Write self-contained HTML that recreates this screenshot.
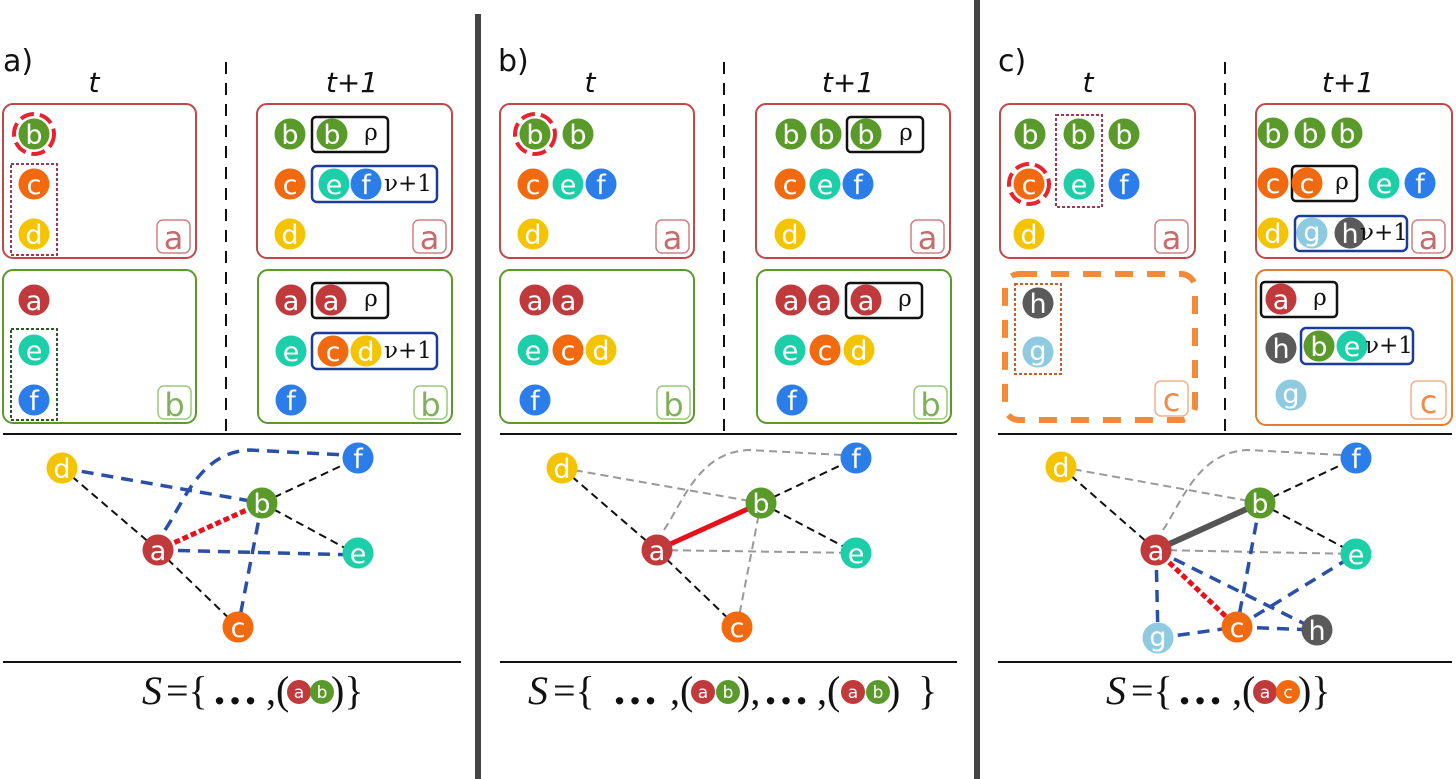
<!DOCTYPE html>
<html><head><meta charset="utf-8"><style>
html,body{margin:0;padding:0;background:#fff;}
svg{display:block;}
.n{font-family:"DejaVu Sans","Liberation Sans",sans-serif;font-size:27px;fill:#fff;text-anchor:middle;transform:translateY(1px);}
.s{font-size:17px;transform:none;}
.lb{font-family:"DejaVu Sans","Liberation Sans",sans-serif;font-size:32px;text-anchor:middle;}
.hd{font-family:"DejaVu Sans","Liberation Sans",sans-serif;font-size:28px;font-style:italic;text-anchor:middle;fill:#111;}
.pl{font-family:"DejaVu Sans","Liberation Sans",sans-serif;font-size:30px;fill:#111;}
.rho{font-family:"DejaVu Serif","Liberation Serif",serif;font-size:23px;fill:#111;text-anchor:middle;}
.f{font-family:"Liberation Serif","DejaVu Serif",serif;font-size:40px;fill:#111;}
.d{font-family:"Liberation Serif","DejaVu Serif",serif;font-size:46px;font-weight:bold;fill:#111;}
</style></head><body>
<svg width="1456" height="779" viewBox="0 0 1456 779" xmlns="http://www.w3.org/2000/svg">
<rect width="1456" height="779" fill="#fff"/>
<rect x="475" y="14" width="6" height="765" fill="#444"/>
<rect x="974" y="0" width="6" height="779" fill="#444"/>

<!-- ============ PANEL A ============ -->
<text class="pl" x="3" y="71">a)</text>
<text class="hd" x="94" y="92">t</text>
<text class="hd" x="352" y="92">t+1</text>
<line x1="226" y1="62" x2="226" y2="432" stroke="#111" stroke-width="2" stroke-dasharray="12 9"/>
<line x1="3" y1="434" x2="461" y2="434" stroke="#111" stroke-width="2"/>
<line x1="3" y1="662" x2="461" y2="662" stroke="#111" stroke-width="2"/>
<rect x="3" y="104" width="193" height="154" rx="10" fill="none" stroke="#c04848" stroke-width="2"/>
<rect x="3" y="270" width="193" height="153" rx="10" fill="none" stroke="#5a9a2a" stroke-width="2"/>
<rect x="257" y="104" width="195" height="154" rx="10" fill="none" stroke="#c04848" stroke-width="2"/>
<rect x="258" y="270" width="194" height="153" rx="10" fill="none" stroke="#5a9a2a" stroke-width="2"/>
<rect x="157" y="220" width="33" height="33" rx="6" fill="none" stroke="#d08080" stroke-width="1.5"/><text class="lb" x="173.5" y="249" fill="#c56b6b">a</text>
<rect x="413" y="220" width="33" height="33" rx="6" fill="none" stroke="#d08080" stroke-width="1.5"/><text class="lb" x="429.5" y="249" fill="#c56b6b">a</text>
<rect x="158" y="386" width="33" height="33" rx="6" fill="none" stroke="#9cc87a" stroke-width="1.5"/><text class="lb" x="174.5" y="416" fill="#7fb05a">b</text>
<rect x="414" y="386" width="33" height="33" rx="6" fill="none" stroke="#9cc87a" stroke-width="1.5"/><text class="lb" x="430.5" y="416" fill="#7fb05a">b</text>
<rect x="11" y="164" width="46" height="91" fill="none" stroke="#a03a50" stroke-width="2" stroke-dasharray="3 2"/>
<rect x="11" y="329" width="46" height="91" fill="none" stroke="#2a5a2a" stroke-width="2" stroke-dasharray="3 2"/>
<circle cx="34" cy="134" r="20" fill="none" stroke="#e8232f" stroke-width="4" stroke-dasharray="14 6"/>
<circle cx="34" cy="134" r="15.5" fill="#5a9a2a"/><text class="n" x="34" y="143">b</text>
<circle cx="34" cy="184" r="15.5" fill="#f26a0f"/><text class="n" x="34" y="193">c</text>
<circle cx="34" cy="234" r="15.5" fill="#f5c400"/><text class="n" x="34" y="243">d</text>
<circle cx="34" cy="300" r="15.5" fill="#c0393b"/><text class="n" x="34" y="309">a</text>
<circle cx="34" cy="350" r="15.5" fill="#1ccfa8"/><text class="n" x="34" y="359">e</text>
<circle cx="34" cy="400" r="15.5" fill="#2b7de9"/><text class="n" x="34" y="409">f</text>
<circle cx="290" cy="134" r="15.5" fill="#5a9a2a"/><text class="n" x="290" y="143">b</text>
<rect x="312" y="117" width="76" height="35" rx="4" fill="none" stroke="#111" stroke-width="2.5"/>
<circle cx="332" cy="134" r="15.5" fill="#5a9a2a"/><text class="n" x="332" y="143">b</text><text class="rho" x="371" y="140">ρ</text>
<circle cx="290" cy="184" r="15.5" fill="#f26a0f"/><text class="n" x="290" y="193">c</text>
<rect x="312" y="166" width="125" height="36" rx="5" fill="none" stroke="#1c3c9a" stroke-width="2.5"/>
<circle cx="334" cy="184" r="15.5" fill="#1ccfa8"/><text class="n" x="334" y="193">e</text>
<circle cx="366" cy="184" r="15.5" fill="#2b7de9"/><text class="n" x="366" y="193">f</text>
<text class="rho" x="408" y="191">ν+1</text>
<circle cx="290" cy="234" r="15.5" fill="#f5c400"/><text class="n" x="290" y="243">d</text>
<circle cx="291" cy="300" r="15.5" fill="#c0393b"/><text class="n" x="291" y="309">a</text>
<rect x="312" y="283" width="76" height="35" rx="4" fill="none" stroke="#111" stroke-width="2.5"/>
<circle cx="331" cy="300" r="15.5" fill="#c0393b"/><text class="n" x="331" y="309">a</text><text class="rho" x="371" y="306">ρ</text>
<circle cx="291" cy="351" r="15.5" fill="#1ccfa8"/><text class="n" x="291" y="360">e</text>
<rect x="312" y="333" width="125" height="36" rx="5" fill="none" stroke="#1c3c9a" stroke-width="2.5"/>
<circle cx="333" cy="351" r="15.5" fill="#f26a0f"/><text class="n" x="333" y="360">c</text>
<circle cx="366" cy="351" r="15.5" fill="#f5c400"/><text class="n" x="366" y="360">d</text>
<text class="rho" x="408" y="358">ν+1</text>
<circle cx="291" cy="400" r="15.5" fill="#2b7de9"/><text class="n" x="291" y="409">f</text>
<g fill="none">
<line x1="62" y1="468" x2="158" y2="550" stroke="#111" stroke-width="2" stroke-dasharray="8 5"/>
<line x1="158" y1="550" x2="238" y2="627" stroke="#111" stroke-width="2" stroke-dasharray="8 5"/>
<line x1="262" y1="503" x2="358" y2="458" stroke="#111" stroke-width="2" stroke-dasharray="8 5"/>
<line x1="262" y1="503" x2="358" y2="555" stroke="#111" stroke-width="2" stroke-dasharray="8 5"/>
<line x1="62" y1="468" x2="262" y2="503" stroke="#2a4fa8" stroke-width="3.5" stroke-dasharray="12 8"/>
<path d="M165,530 C185,500 200,452 250,450 L345,455" stroke="#2a4fa8" stroke-width="3.5" stroke-dasharray="12 8"/>
<line x1="158" y1="550" x2="358" y2="555" stroke="#2a4fa8" stroke-width="3.5" stroke-dasharray="12 8"/>
<line x1="262" y1="503" x2="238" y2="627" stroke="#2a4fa8" stroke-width="3.5" stroke-dasharray="12 8"/>
<line x1="158" y1="550" x2="262" y2="503" stroke="#e8101a" stroke-width="5" stroke-dasharray="6 3"/>
</g>
<circle cx="62" cy="468" r="15.5" fill="#f5c400"/><text class="n" x="62" y="477">d</text>
<circle cx="358" cy="458" r="15.5" fill="#2b7de9"/><text class="n" x="358" y="467">f</text>
<circle cx="262" cy="503" r="15.5" fill="#5a9a2a"/><text class="n" x="262" y="512">b</text>
<circle cx="158" cy="550" r="15.5" fill="#c0393b"/><text class="n" x="158" y="559">a</text>
<circle cx="358" cy="553" r="15.5" fill="#1ccfa8"/><text class="n" x="358" y="562">e</text>
<circle cx="238" cy="627" r="15.5" fill="#f26a0f"/><text class="n" x="238" y="636">c</text>
<text class="f" x="142" y="704" font-style="italic">S</text>
<text class="f" x="166" y="704">={</text>
<text class="d" x="212" y="704">…</text>
<text class="f" x="266" y="704">,(</text>
<circle cx="299" cy="692" r="12" fill="#c0393b"/><text class="n s" x="299" y="698">a</text>
<circle cx="322" cy="692" r="12" fill="#5a9a2a"/><text class="n s" x="322" y="698">b</text>
<text class="f" x="331" y="704">)}</text>

<!-- ============ PANEL B ============ -->
<text class="pl" x="498" y="71">b)</text>
<text class="hd" x="590" y="92">t</text>
<text class="hd" x="848" y="92">t+1</text>
<line x1="724" y1="62" x2="724" y2="432" stroke="#111" stroke-width="2" stroke-dasharray="12 9"/>
<line x1="500" y1="434" x2="957" y2="434" stroke="#111" stroke-width="2"/>
<line x1="500" y1="662" x2="957" y2="662" stroke="#111" stroke-width="2"/>
<rect x="500" y="104" width="194" height="154" rx="10" fill="none" stroke="#c04848" stroke-width="2"/>
<rect x="500" y="270" width="194" height="153" rx="10" fill="none" stroke="#5a9a2a" stroke-width="2"/>
<rect x="756" y="104" width="194" height="154" rx="10" fill="none" stroke="#c04848" stroke-width="2"/>
<rect x="757" y="270" width="194" height="153" rx="10" fill="none" stroke="#5a9a2a" stroke-width="2"/>
<rect x="656" y="220" width="33" height="33" rx="6" fill="none" stroke="#d08080" stroke-width="1.5"/><text class="lb" x="672.5" y="249" fill="#c56b6b">a</text>
<rect x="911" y="220" width="33" height="33" rx="6" fill="none" stroke="#d08080" stroke-width="1.5"/><text class="lb" x="927.5" y="249" fill="#c56b6b">a</text>
<rect x="657" y="386" width="33" height="33" rx="6" fill="none" stroke="#9cc87a" stroke-width="1.5"/><text class="lb" x="673.5" y="416" fill="#7fb05a">b</text>
<rect x="914" y="386" width="33" height="33" rx="6" fill="none" stroke="#9cc87a" stroke-width="1.5"/><text class="lb" x="930.5" y="416" fill="#7fb05a">b</text>
<circle cx="535" cy="134" r="20" fill="none" stroke="#e8232f" stroke-width="4" stroke-dasharray="14 6"/>
<circle cx="535" cy="134" r="15.5" fill="#5a9a2a"/><text class="n" x="535" y="143">b</text>
<circle cx="578" cy="134" r="15.5" fill="#5a9a2a"/><text class="n" x="578" y="143">b</text>
<circle cx="533" cy="184" r="15.5" fill="#f26a0f"/><text class="n" x="533" y="193">c</text>
<circle cx="568" cy="184" r="15.5" fill="#1ccfa8"/><text class="n" x="568" y="193">e</text>
<circle cx="601" cy="184" r="15.5" fill="#2b7de9"/><text class="n" x="601" y="193">f</text>
<circle cx="533" cy="234" r="15.5" fill="#f5c400"/><text class="n" x="533" y="243">d</text>
<circle cx="535" cy="300" r="15.5" fill="#c0393b"/><text class="n" x="535" y="309">a</text>
<circle cx="568" cy="300" r="15.5" fill="#c0393b"/><text class="n" x="568" y="309">a</text>
<circle cx="533" cy="350" r="15.5" fill="#1ccfa8"/><text class="n" x="533" y="359">e</text>
<circle cx="568" cy="350" r="15.5" fill="#f26a0f"/><text class="n" x="568" y="359">c</text>
<circle cx="601" cy="350" r="15.5" fill="#f5c400"/><text class="n" x="601" y="359">d</text>
<circle cx="535" cy="400" r="15.5" fill="#2b7de9"/><text class="n" x="535" y="409">f</text>
<circle cx="791" cy="134" r="15.5" fill="#5a9a2a"/><text class="n" x="791" y="143">b</text>
<circle cx="826" cy="134" r="15.5" fill="#5a9a2a"/><text class="n" x="826" y="143">b</text>
<rect x="847" y="117" width="76" height="35" rx="4" fill="none" stroke="#111" stroke-width="2.5"/>
<circle cx="866" cy="134" r="15.5" fill="#5a9a2a"/><text class="n" x="866" y="143">b</text><text class="rho" x="906" y="140">ρ</text>
<circle cx="790" cy="184" r="15.5" fill="#f26a0f"/><text class="n" x="790" y="193">c</text>
<circle cx="825" cy="184" r="15.5" fill="#1ccfa8"/><text class="n" x="825" y="193">e</text>
<circle cx="858" cy="184" r="15.5" fill="#2b7de9"/><text class="n" x="858" y="193">f</text>
<circle cx="790" cy="234" r="15.5" fill="#f5c400"/><text class="n" x="790" y="243">d</text>
<circle cx="791" cy="300" r="15.5" fill="#c0393b"/><text class="n" x="791" y="309">a</text>
<circle cx="824" cy="300" r="15.5" fill="#c0393b"/><text class="n" x="824" y="309">a</text>
<rect x="846" y="283" width="76" height="35" rx="4" fill="none" stroke="#111" stroke-width="2.5"/>
<circle cx="866" cy="300" r="15.5" fill="#c0393b"/><text class="n" x="866" y="309">a</text><text class="rho" x="905" y="306">ρ</text>
<circle cx="790" cy="350" r="15.5" fill="#1ccfa8"/><text class="n" x="790" y="359">e</text>
<circle cx="825" cy="350" r="15.5" fill="#f26a0f"/><text class="n" x="825" y="359">c</text>
<circle cx="859" cy="350" r="15.5" fill="#f5c400"/><text class="n" x="859" y="359">d</text>
<circle cx="792" cy="400" r="15.5" fill="#2b7de9"/><text class="n" x="792" y="409">f</text>
<g fill="none">
<line x1="562" y1="468" x2="657" y2="550" stroke="#111" stroke-width="2" stroke-dasharray="8 5"/>
<line x1="657" y1="550" x2="737" y2="627" stroke="#111" stroke-width="2" stroke-dasharray="8 5"/>
<line x1="761" y1="503" x2="856" y2="458" stroke="#111" stroke-width="2" stroke-dasharray="8 5"/>
<line x1="761" y1="503" x2="856" y2="553" stroke="#111" stroke-width="2" stroke-dasharray="8 5"/>
<line x1="562" y1="468" x2="761" y2="503" stroke="#999" stroke-width="2" stroke-dasharray="8 5"/>
<path d="M664,530 C684,500 699,452 749,450 L843,455" stroke="#999" stroke-width="2" stroke-dasharray="8 5"/>
<line x1="657" y1="550" x2="856" y2="553" stroke="#999" stroke-width="2" stroke-dasharray="8 5"/>
<line x1="761" y1="503" x2="737" y2="627" stroke="#999" stroke-width="2" stroke-dasharray="8 5"/>
<line x1="657" y1="550" x2="761" y2="503" stroke="#e8101a" stroke-width="5"/>
</g>
<circle cx="562" cy="468" r="15.5" fill="#f5c400"/><text class="n" x="562" y="477">d</text>
<circle cx="856" cy="458" r="15.5" fill="#2b7de9"/><text class="n" x="856" y="467">f</text>
<circle cx="761" cy="503" r="15.5" fill="#5a9a2a"/><text class="n" x="761" y="512">b</text>
<circle cx="657" cy="550" r="15.5" fill="#c0393b"/><text class="n" x="657" y="559">a</text>
<circle cx="856" cy="553" r="15.5" fill="#1ccfa8"/><text class="n" x="856" y="562">e</text>
<circle cx="737" cy="627" r="15.5" fill="#f26a0f"/><text class="n" x="737" y="636">c</text>
<text class="f" x="528" y="704" font-style="italic">S</text>
<text class="f" x="553" y="704">={</text>
<text class="d" x="612" y="704">…</text>
<text class="f" x="670" y="704">,(</text>
<circle cx="703" cy="692" r="12" fill="#c0393b"/><text class="n s" x="703" y="698">a</text>
<circle cx="728" cy="692" r="12" fill="#5a9a2a"/><text class="n s" x="728" y="698">b</text>
<text class="f" x="737" y="704">),</text>
<text class="d" x="763" y="704">…</text>
<text class="f" x="817" y="704">,(</text>
<circle cx="853" cy="692" r="12" fill="#c0393b"/><text class="n s" x="853" y="698">a</text>
<circle cx="878" cy="692" r="12" fill="#5a9a2a"/><text class="n s" x="878" y="698">b</text>
<text class="f" x="887" y="704">)</text>
<text class="f" x="918" y="704">}</text>

<!-- ============ PANEL C ============ -->
<text class="pl" x="998" y="71">c)</text>
<text class="hd" x="1088" y="92">t</text>
<text class="hd" x="1348" y="92">t+1</text>
<line x1="1225" y1="62" x2="1225" y2="432" stroke="#111" stroke-width="2" stroke-dasharray="12 9"/>
<line x1="998" y1="434" x2="1452" y2="434" stroke="#111" stroke-width="2"/>
<line x1="998" y1="662" x2="1452" y2="662" stroke="#111" stroke-width="2"/>
<rect x="1000" y="104" width="195" height="154" rx="10" fill="none" stroke="#c04848" stroke-width="2"/>
<rect x="1005" y="274" width="190" height="146" rx="14" fill="none" stroke="#f28a3a" stroke-width="6" stroke-dasharray="18 14"/>
<rect x="1256" y="104" width="196" height="154" rx="10" fill="none" stroke="#c04848" stroke-width="2"/>
<rect x="1256" y="270" width="196" height="155" rx="10" fill="none" stroke="#e87a2a" stroke-width="2"/>
<rect x="1155" y="220" width="33" height="33" rx="6" fill="none" stroke="#d08080" stroke-width="1.5"/><text class="lb" x="1171.5" y="249" fill="#c56b6b">a</text>
<rect x="1412" y="220" width="33" height="33" rx="6" fill="none" stroke="#d08080" stroke-width="1.5"/><text class="lb" x="1428.5" y="249" fill="#c56b6b">a</text>
<rect x="1155" y="381" width="33" height="35" rx="6" fill="none" stroke="#f5b08a" stroke-width="1.5"/><text class="lb" x="1171.5" y="411" fill="#f28a4a">c</text>
<rect x="1411" y="381" width="35" height="38" rx="6" fill="none" stroke="#f5b08a" stroke-width="1.5"/><text class="lb" x="1428.5" y="413" fill="#f28a4a">c</text>
<rect x="1056" y="115" width="46" height="92" fill="none" stroke="#a03a50" stroke-width="2" stroke-dasharray="3 2"/>
<rect x="1015" y="284" width="46" height="90" fill="none" stroke="#c0602a" stroke-width="2" stroke-dasharray="3 2"/>
<circle cx="1030" cy="134" r="15.5" fill="#5a9a2a"/><text class="n" x="1030" y="143">b</text>
<circle cx="1079" cy="134" r="15.5" fill="#5a9a2a"/><text class="n" x="1079" y="143">b</text>
<circle cx="1124" cy="134" r="15.5" fill="#5a9a2a"/><text class="n" x="1124" y="143">b</text>
<circle cx="1029" cy="184" r="20" fill="none" stroke="#e8232f" stroke-width="4" stroke-dasharray="14 6"/>
<circle cx="1029" cy="184" r="15.5" fill="#f26a0f"/><text class="n" x="1029" y="193">c</text>
<circle cx="1079" cy="184" r="15.5" fill="#1ccfa8"/><text class="n" x="1079" y="193">e</text>
<circle cx="1124" cy="184" r="15.5" fill="#2b7de9"/><text class="n" x="1124" y="193">f</text>
<circle cx="1029" cy="234" r="15.5" fill="#f5c400"/><text class="n" x="1029" y="243">d</text>
<circle cx="1038" cy="303" r="15.5" fill="#5a5a5a"/><text class="n" x="1038" y="312">h</text>
<circle cx="1038" cy="352" r="15.5" fill="#8ecae0"/><text class="n" x="1038" y="359">g</text>
<circle cx="1273" cy="133" r="15.5" fill="#5a9a2a"/><text class="n" x="1273" y="142">b</text>
<circle cx="1310" cy="133" r="15.5" fill="#5a9a2a"/><text class="n" x="1310" y="142">b</text>
<circle cx="1347" cy="133" r="15.5" fill="#5a9a2a"/><text class="n" x="1347" y="142">b</text>
<circle cx="1273" cy="183" r="15.5" fill="#f26a0f"/><text class="n" x="1273" y="192">c</text>
<rect x="1292" y="166" width="65" height="35" rx="4" fill="none" stroke="#111" stroke-width="2.5"/>
<circle cx="1307" cy="183" r="15.5" fill="#f26a0f"/><text class="n" x="1307" y="192">c</text><text class="rho" x="1342" y="189">ρ</text>
<circle cx="1384" cy="183" r="15.5" fill="#1ccfa8"/><text class="n" x="1384" y="192">e</text>
<circle cx="1420" cy="183" r="15.5" fill="#2b7de9"/><text class="n" x="1420" y="192">f</text>
<circle cx="1273" cy="233" r="15.5" fill="#f5c400"/><text class="n" x="1273" y="242">d</text>
<rect x="1295" y="216" width="112" height="35" rx="5" fill="none" stroke="#1c3c9a" stroke-width="2.5"/>
<circle cx="1312" cy="233" r="15.5" fill="#8ecae0"/><text class="n" x="1312" y="240">g</text>
<circle cx="1350" cy="233" r="15.5" fill="#5a5a5a"/><text class="n" x="1350" y="242">h</text>
<text class="rho" x="1384" y="240">ν+1</text>
<rect x="1261" y="282" width="76" height="35" rx="4" fill="none" stroke="#111" stroke-width="2.5"/>
<circle cx="1281" cy="299" r="15.5" fill="#c0393b"/><text class="n" x="1281" y="308">a</text><text class="rho" x="1320" y="305">ρ</text>
<circle cx="1281" cy="348" r="15.5" fill="#5a5a5a"/><text class="n" x="1281" y="357">h</text>
<rect x="1301" y="328" width="112" height="36" rx="5" fill="none" stroke="#1c3c9a" stroke-width="2.5"/>
<circle cx="1319" cy="346" r="15.5" fill="#5a9a2a"/><text class="n" x="1319" y="355">b</text>
<circle cx="1352" cy="346" r="15.5" fill="#1ccfa8"/><text class="n" x="1352" y="355">e</text>
<text class="rho" x="1389" y="353">ν+1</text>
<circle cx="1291" cy="395" r="15.5" fill="#8ecae0"/><text class="n" x="1291" y="402">g</text>
<g fill="none">
<line x1="1061" y1="467" x2="1156" y2="550" stroke="#111" stroke-width="2" stroke-dasharray="8 5"/>
<line x1="1260" y1="503" x2="1356" y2="458" stroke="#111" stroke-width="2" stroke-dasharray="8 5"/>
<line x1="1260" y1="503" x2="1356" y2="554" stroke="#111" stroke-width="2" stroke-dasharray="8 5"/>
<line x1="1061" y1="467" x2="1260" y2="503" stroke="#999" stroke-width="2" stroke-dasharray="8 5"/>
<path d="M1163,530 C1183,500 1198,452 1248,450 L1342,455" stroke="#999" stroke-width="2" stroke-dasharray="8 5"/>
<line x1="1156" y1="550" x2="1356" y2="554" stroke="#999" stroke-width="2" stroke-dasharray="8 5"/>
<line x1="1260" y1="503" x2="1237" y2="627" stroke="#2a4fa8" stroke-width="3.5" stroke-dasharray="12 8"/>
<line x1="1156" y1="550" x2="1317" y2="630" stroke="#2a4fa8" stroke-width="3.5" stroke-dasharray="12 8"/>
<line x1="1156" y1="550" x2="1158" y2="638" stroke="#2a4fa8" stroke-width="3.5" stroke-dasharray="12 8"/>
<line x1="1158" y1="638" x2="1237" y2="627" stroke="#2a4fa8" stroke-width="3.5" stroke-dasharray="12 8"/>
<line x1="1237" y1="627" x2="1317" y2="630" stroke="#2a4fa8" stroke-width="3.5" stroke-dasharray="12 8"/>
<line x1="1237" y1="627" x2="1356" y2="554" stroke="#2a4fa8" stroke-width="3.5" stroke-dasharray="12 8"/>
<line x1="1156" y1="550" x2="1260" y2="503" stroke="#555" stroke-width="6"/>
<line x1="1156" y1="550" x2="1237" y2="627" stroke="#e8101a" stroke-width="5" stroke-dasharray="6 3"/>
</g>
<circle cx="1061" cy="467" r="15.5" fill="#f5c400"/><text class="n" x="1061" y="476">d</text>
<circle cx="1356" cy="458" r="15.5" fill="#2b7de9"/><text class="n" x="1356" y="467">f</text>
<circle cx="1260" cy="503" r="15.5" fill="#5a9a2a"/><text class="n" x="1260" y="512">b</text>
<circle cx="1156" cy="550" r="15.5" fill="#c0393b"/><text class="n" x="1156" y="559">a</text>
<circle cx="1356" cy="554" r="15.5" fill="#1ccfa8"/><text class="n" x="1356" y="563">e</text>
<circle cx="1237" cy="627" r="15.5" fill="#f26a0f"/><text class="n" x="1237" y="636">c</text>
<circle cx="1158" cy="638" r="15.5" fill="#8ecae0"/><text class="n" x="1158" y="645">g</text>
<circle cx="1317" cy="630" r="15.5" fill="#5a5a5a"/><text class="n" x="1317" y="639">h</text>
<text class="f" x="1106" y="704" font-style="italic">S</text>
<text class="f" x="1131" y="704">={</text>
<text class="d" x="1177" y="704">…</text>
<text class="f" x="1232" y="704">,(</text>
<circle cx="1265" cy="692" r="12" fill="#c0393b"/><text class="n s" x="1265" y="698">a</text>
<circle cx="1288" cy="692" r="12" fill="#f26a0f"/><text class="n s" x="1288" y="698">c</text>
<text class="f" x="1298" y="704">)}</text>
</svg>
</body></html>
